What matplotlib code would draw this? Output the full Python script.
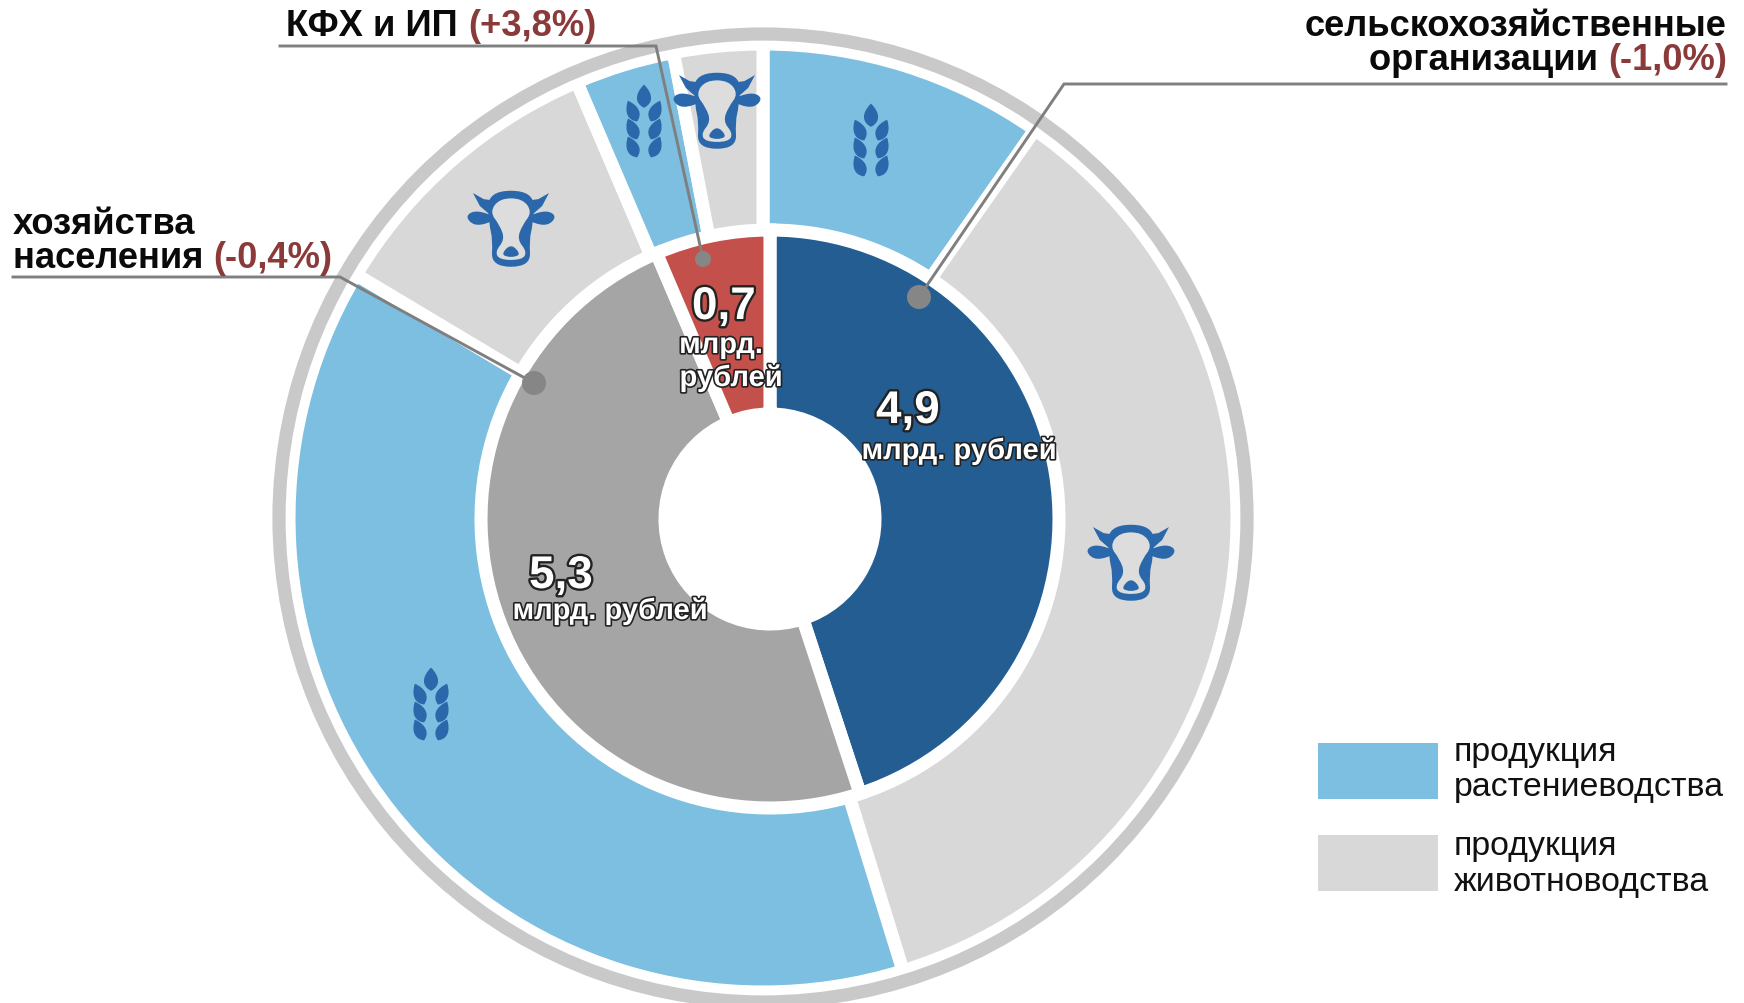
"""Структура продукции по категориям хозяйств: двойное кольцо с подписями."""
import matplotlib
matplotlib.use('Agg')
import matplotlib.pyplot as plt
import matplotlib.patheffects as pe
from matplotlib.patches import Circle, PathPatch, Rectangle
from matplotlib.path import Path
from matplotlib.transforms import Affine2D

plt.rcParams['font.family'] = ['Liberation Sans', 'DejaVu Sans']

# Данные, млрд. рублей
inner_values = [4.9, 5.3, 0.7]
outer_values = [1.06, 3.87, 4.18, 1.09, 0.37, 0.33]

BLUE_LIGHT = '#7CBFE0'
GREY_LIGHT = '#D8D8D8'
BLUE_DARK = '#235D92'
GREY_MID = '#A5A5A5'
RED = '#C4504C'
RING = '#C9C9C9'
ICON = '#2A68AB'
LEADER = '#7F7F7F'
PCT = '#8B3A3A'
H = 1004


def wheat(ax, x, y, s):
    """Колос: верхний лист и три пары боковых."""
    leaf = Path([(0, 0.5), (0.62, 0.1), (0.62, -0.3), (0, -0.5), (-0.62, -0.3), (-0.62, 0.1), (0, 0.5)],
                [1, 4, 4, 4, 4, 4, 4])
    t0 = Affine2D().scale(s * 0.95, s * 1.45).translate(x, y + s * 1.55)
    ax.add_patch(PathPatch(leaf.transformed(t0), fc=ICON, ec='none', zorder=5))
    for yy in (0.62, -0.5, -1.62):
        for side in (-1, 1):
            t = (Affine2D().scale(s * 0.82, s * 1.42).rotate_deg(-side * 24)
                 .translate(x + side * s * 0.72, y + s * yy))
            ax.add_patch(PathPatch(leaf.transformed(t), fc=ICON, ec='none', zorder=5))


def smooth(pts):
    """Замкнутый сглаженный контур через середины сторон."""
    n = len(pts)
    mid = lambda a, b: ((a[0] + b[0]) / 2, (a[1] + b[1]) / 2)
    verts = [mid(pts[-1], pts[0])]
    codes = [Path.MOVETO]
    for i in range(n):
        verts += [pts[i], mid(pts[i], pts[(i + 1) % n])]
        codes += [Path.CURVE3, Path.CURVE3]
    return Path(verts, codes)


def cow(ax, x, y, s, face):
    """Голова коровы: рога, уши, морда и светлая полоса."""
    def shape(pts, color, z=5, soft=True):
        p = [(x + a * s, y + b * s) for a, b in pts]
        path = smooth(p) if soft else Path(p + [p[0]], closed=True)
        ax.add_patch(PathPatch(path, fc=color, ec='none', zorder=z))
    # рога
    shape([(-1.0, 0.92), (-0.72, 0.76), (-0.42, 0.72), (0, 0.86), (0.42, 0.72), (0.72, 0.76), (1.0, 0.92),
           (0.82, 0.58), (0.5, 0.3), (-0.5, 0.3), (-0.82, 0.58)], ICON, soft=False)
    # уши
    shape([(-1.2, 0.3), (-0.98, 0.46), (-0.6, 0.38), (-0.38, 0.26), (-0.6, 0.12), (-0.98, 0.06)], ICON)
    shape([(1.2, 0.3), (0.98, 0.46), (0.6, 0.38), (0.38, 0.26), (0.6, 0.12), (0.98, 0.06)], ICON)
    # голова
    shape([(-0.62, 0.98), (0.62, 0.98), (0.58, 0.1), (0.48, -0.3), (0.52, -1.02), (-0.52, -1.02), (-0.48, -0.3),
           (-0.58, 0.1)], ICON)
    # светлая часть морды
    shape([(-0.3, 0.78), (0.3, 0.78), (0.56, 0.42), (0.3, 0.08), (0.16, -0.3), (0.42, -0.62), (0.3, -0.84),
           (-0.3, -0.84), (-0.42, -0.62), (-0.16, -0.3), (-0.3, 0.08), (-0.56, 0.42)], face, 6)
    # нос
    shape([(-0.24, -0.66), (0, -0.42), (0.24, -0.66), (0.14, -0.76), (-0.14, -0.76)], ICON, 7)


fig = plt.figure(figsize=(17.44, 10.04), dpi=100)
ax = fig.add_axes([0, 0, 1, 1])

# Внешнее кольцо
ax.pie(outer_values, colors=[BLUE_LIGHT, GREY_LIGHT, BLUE_LIGHT, GREY_LIGHT, BLUE_LIGHT, GREY_LIGHT],
       radius=474, center=(763, H - 519), startangle=90, counterclock=False, frame=True,
       wedgeprops={'width': 200, 'edgecolor': 'white', 'linewidth': 9.4, 'joinstyle': 'miter'})
# Белый круг под внутренним кольцом (у него свой центр)
ax.add_patch(Circle((770, H - 520), 294, fc='white', ec='none', zorder=1))
# Внутреннее кольцо
ax.pie(inner_values, colors=[BLUE_DARK, GREY_MID, RED],
       radius=289, center=(770, H - 520), startangle=90, counterclock=False, frame=True,
       wedgeprops={'width': 184, 'edgecolor': 'white', 'linewidth': 9.4, 'joinstyle': 'miter'})
# Серый обод
ax.add_patch(Circle((763, H - 519), 484, fc='none', ec=RING, lw=9.5, zorder=3))

ax.set_xlim(0, 1744)
ax.set_ylim(0, H)
ax.set_aspect('equal')
ax.axis('off')

# Выноски
leaders = [
    ([13, 340, 534], [278, 278, 384], 12),
    ([280, 656, 703], [47, 47, 260], 8),
    ([1726, 1064, 919], [85, 85, 298], 12),
]
for xs, ys, r in leaders:
    ax.plot(xs, [H - v for v in ys], color=LEADER, lw=2.1, zorder=8, solid_joinstyle='miter')
    ax.add_patch(Circle((xs[-1], H - ys[-1]), r, fc='#868686', ec='none', zorder=9))

# Значки
wheat(ax, 871, H - 141, 16)
wheat(ax, 644, H - 122, 16)
wheat(ax, 431, H - 705, 16)
cow(ax, 717, H - 111, 38, '#DDDDDD')
cow(ax, 511, H - 229, 38, '#DDDDDD')
cow(ax, 1131, H - 563, 38, '#DDDDDD')

# Подписи категорий
FS = 26.2
lab = {'fontsize': FS, 'fontweight': 'bold', 'color': '#0A0A0A', 'zorder': 10}
ax.text(13, H - 224, 'хозяйства', va='center', ha='left', **lab)
t = ax.text(13, H - 258, 'населения ', va='center', ha='left', **lab)
ax.annotate('(-0,4%)', xy=(1, 0.5), xycoords=t, va='center', ha='left', fontsize=FS, fontweight='bold',
            color=PCT, zorder=10)
t = ax.text(286, H - 27, 'КФХ и ИП ', va='center', ha='left', **lab)
ax.annotate('(+3,8%)', xy=(1, 0.5), xycoords=t, va='center', ha='left', fontsize=FS, fontweight='bold',
            color=PCT, zorder=10)
ax.text(1727, H - 27, 'сельскохозяйственные', va='center', ha='right', **lab)
t = ax.text(1727, H - 60, '(-1,0%)', va='center', ha='right', fontsize=FS, fontweight='bold', color=PCT, zorder=10)
ax.annotate('организации ', xy=(0, 0.5), xycoords=t, va='center', ha='right', **lab)

# Значения на секторах
stroke = [pe.withStroke(linewidth=3.4, foreground='#222222')]
stroke_s = [pe.withStroke(linewidth=2.4, foreground='#222222')]
big = {'fontsize': 33, 'fontweight': 'bold', 'color': 'white', 'ha': 'center', 'va': 'center',
       'path_effects': stroke, 'zorder': 10}
small = {'fontsize': 21, 'fontweight': 'bold', 'color': 'white', 'ha': 'center', 'va': 'center',
         'path_effects': stroke_s, 'zorder': 10}
ax.text(908, H - 412, '4,9', **big)
ax.text(959, H - 452, 'млрд. рублей', **small)
ax.text(561, H - 577, '5,3', **big)
ax.text(610, H - 612, 'млрд. рублей', **small)
ax.text(724, H - 308, '0,7', **big)
ax.text(721, H - 346, 'млрд.', **small)
ax.text(731, H - 379, 'рублей', **small)

# Легенда
ax.add_patch(Rectangle((1318, H - 800), 120, 56, fc=BLUE_LIGHT, ec='none'))
ax.add_patch(Rectangle((1318, H - 892), 120, 56, fc=GREY_LIGHT, ec='none'))
leg = {'fontsize': 24.4, 'color': '#111111', 'va': 'center', 'ha': 'left'}
ax.text(1454, H - 753, 'продукция', **leg)
ax.text(1454, H - 788, 'растениеводства', **leg)
ax.text(1454, H - 847, 'продукция', **leg)
ax.text(1454, H - 883, 'животноводства', **leg)

plt.savefig('out.png', dpi=100)
